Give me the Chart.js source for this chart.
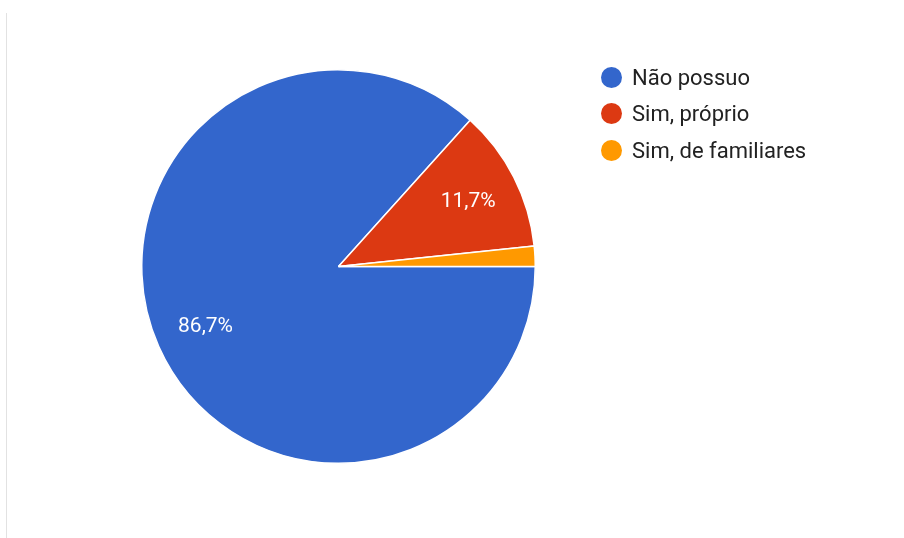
<!DOCTYPE html>
<html>
<head>
<meta charset="utf-8">
<script src="https://cdn.jsdelivr.net/npm/chart.js@4.4.0/dist/chart.umd.min.js"></script>
<style>
  html, body { margin: 0; padding: 0; background: #fff; }
  body { width: 904px; height: 538px; position: relative; overflow: hidden; font-family: Roboto, Arial, sans-serif; }
  .card-edge { position: absolute; left: 6px; top: 13px; bottom: -8px; width: 10px; border-left: 1px solid #e2e2e2; border-bottom-left-radius: 8px; }
  .chart-box { position: absolute; left: 0; top: 0; width: 677px; height: 533px; }
  .legend { position: absolute; left: 601px; top: 59px; list-style: none; margin: 0; padding: 0; }
  .legend li { display: flex; align-items: center; height: 36.5px; font-size: 22px; color: #222; }
  .legend .dot { width: 21px; height: 21px; border-radius: 50%; margin-right: 10px; }
</style>
</head>
<body>
<div class="card-edge"></div>
<div class="chart-box"><canvas id="pie"></canvas></div>
<ul class="legend" id="legend"></ul>
<script>
// answers and response counts
const labels = ['Não possuo', 'Sim, próprio', 'Sim, de familiares'];
const counts = [52, 7, 1];
const colors = ['#3366cc', '#dc3912', '#ff9900'];

const total = counts.reduce((a, b) => a + b, 0);

// percentage text inside each slice (skipped when the slice is too thin)
const sliceLabels = {
    id: 'sliceLabels',
    afterDatasetsDraw(chart) {
        const { ctx } = chart;
        const meta = chart.getDatasetMeta(0);
        ctx.save();
        ctx.fillStyle = '#fff';
        ctx.font = '21px Roboto, Arial, sans-serif';
        ctx.textAlign = 'center';
        ctx.textBaseline = 'middle';
        meta.data.forEach((arc, i) => {
            const pct = counts[i] / total * 100;
            if (pct < 5) return;
            const p = arc.getProps(['x', 'y', 'startAngle', 'endAngle', 'outerRadius'], true);
            const mid = (p.startAngle + p.endAngle) / 2;
            const r = p.outerRadius * 0.74;
            const txt = pct.toFixed(1).replace('.', ',') + '%';
            ctx.fillText(txt, p.x + Math.cos(mid) * r, p.y + Math.sin(mid) * r + 1);
        });
        ctx.restore();
    }
};

new Chart(document.getElementById('pie'), {
    type: 'pie',
    data: {
        labels,
        datasets: [{
            data: counts,
            backgroundColor: colors,
            borderColor: '#fff',
            borderWidth: 1.5
        }]
    },
    options: {
        responsive: true,
        maintainAspectRatio: false,
        animation: false,
        rotation: 90,
        layout: { padding: 69 },
        plugins: {
            legend: { display: false },
            tooltip: { enabled: false }
        }
    },
    plugins: [sliceLabels]
});

// legend on the right
document.getElementById('legend').innerHTML = labels.map((l, i) =>
    `<li><span class="dot" style="background:${colors[i]}"></span>${l}</li>`
).join('');
</script>
</body>
</html>
